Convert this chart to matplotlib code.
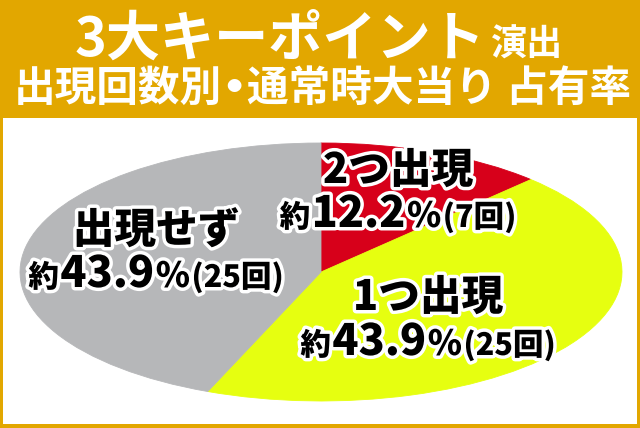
import matplotlib
matplotlib.use("Agg")
import matplotlib.pyplot as plt
import matplotlib.patheffects as pe
from matplotlib.patches import Rectangle

plt.rcParams['font.family'] = ['Noto Sans CJK JP', 'DejaVu Sans']

# data
categories = ["2つ出現", "1つ出現", "出現せず"]
counts = [7, 25, 25]
percents = ["12.2", "43.9", "43.9"]
slice_colors = ["#D7001A", "#E6FF10", "#B6B7B9"]

title_main = "3大キーポイント"
title_sub = "演出"
title_line2a = "出現回数別"
title_line2b = "●"
title_line2c = "通常時大当り 占有率"

GOLD = "#E2A700"
W, H = 640, 428

fig = plt.figure(figsize=(W / 100, H / 100), dpi=100, facecolor=GOLD)

# background axes in pixel coords
bg = fig.add_axes([0, 0, 1, 1])
bg.set_xlim(0, W)
bg.set_ylim(H, 0)
bg.axis("off")
bg.add_patch(Rectangle((3, 118), 634, 306, facecolor="white", edgecolor="none"))

# pie stretched into an ellipse
left, right, top, bottom = 20, 622, 143, 401
pax = fig.add_axes([left / W, (H - bottom) / H, (right - left) / W, (bottom - top) / H])
wedges, _ = pax.pie(counts, colors=slice_colors, startangle=90, counterclock=False,
                    wedgeprops=dict(linewidth=0.6))
for w, c in zip(wedges, slice_colors):
    w.set_edgecolor(c)
pax.set_aspect("auto")
pax.set_xlim(-1, 1)
pax.set_ylim(-1, 1)
pax.axis("off")

# overlay for text
ov = fig.add_axes([0, 0, 1, 1])
ov.set_xlim(0, W)
ov.set_ylim(H, 0)
ov.axis("off")
ov.patch.set_alpha(0)

renderer = fig.canvas.get_renderer()
outline = [pe.Stroke(linewidth=5, foreground="white"), pe.Normal()]


def draw_row(pieces, xc, y, color, weight, effects=None, gap=0):
    # pieces: (text, size) or (text, size, dy)
    texts = []
    for p in pieces:
        s, size = p[0], p[1]
        dy = p[2] if len(p) > 2 else 0
        t = ov.text(0, y + dy, s, fontsize=size, color=color, weight=weight,
                    ha="left", va="baseline", path_effects=effects)
        texts.append(t)
    widths = [t.get_window_extent(renderer).width for t in texts]
    total = sum(widths) + gap * (len(texts) - 1)
    x = xc - total / 2
    for t, w in zip(texts, widths):
        t.set_x(x)
        x += w + gap


# title
draw_row([(title_main, 39), (title_sub, 26)], 319, 56, "white", "bold", gap=5)
draw_row([(title_line2a, 30), (title_line2b, 11, -10), (title_line2c, 30)],
         322, 101, "white", "bold", gap=5)

# slice labels
label_pos = [(398, 183, 227), (428, 310, 355), (156, 243, 287)]
for name, n, pct, (xc, y1, y2) in zip(categories, counts, percents, label_pos):
    draw_row([(name, 30)], xc, y1, "black", "black", outline)
    draw_row([("約", 22), (pct, 31), ("%", 25), (f"({n}回)", 22)],
             xc, y2, "black", "black", outline, gap=1.5)

fig.savefig("out.png", dpi=100, facecolor=GOLD)
